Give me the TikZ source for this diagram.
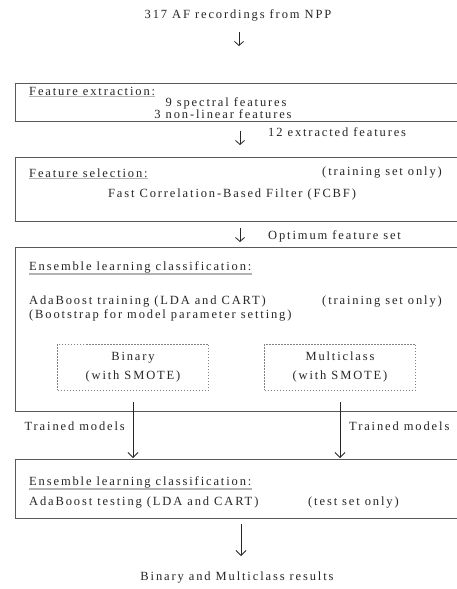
\documentclass[tikz,border=0pt]{standalone}
\usepackage{fontspec}
\setmainfont{Liberation Serif}[LetterSpace=15]
\usetikzlibrary{arrows.meta}
\begin{document}
\begin{tikzpicture}[x=1pt,y=-1pt,
  txt/.style={font=\fontsize{12.5}{13}\selectfont, inner sep=0pt, text=black!85},
  box/.style={draw=black!65, line width=0.9pt},
  dbox/.style={draw=black!50, dashed, dash pattern=on 1.5pt off 1.5pt, line width=0.7pt, minimum width=151pt, minimum height=46pt, align=center, font=\fontsize{12.5}{19}\selectfont, text=black!85},
  uline/.style={draw=black!30, line width=1.6pt},
  sarr/.style={draw=black!85, line width=0.8pt, -{Straight Barb[length=4pt,width=9pt]}},
  larr/.style={draw=black!85, line width=0.8pt, -{Straight Barb[length=5pt,width=10pt]}}]
\useasboundingbox (0,0) rectangle (457,589);
\clip (0,0) rectangle (457,589);
\fill[white] (0,0) rectangle (457,589);

% title
\node[txt] (title) at (238,15) {317 AF recordings from NPP};
\coordinate (a1s) at (239,32);
\coordinate (a1e) at (239,46);
\draw[sarr] (a1s) -- (a1e);

% box 1
\draw[box] (15,83) rectangle (480,121);
\node[txt, anchor=west] (h1) at (29,91) {Feature extraction:};
\draw[uline] ([yshift=-1pt]h1.south west) -- ([yshift=-1pt]h1.south east);
\node[txt] (f1) at (226,103.5) {9 spectral features};
\node[txt] (f2) at (223,114) {3 non-linear features};

\coordinate (a2s) at (240,131);
\coordinate (a2e) at (240,145);
\draw[sarr] (a2s) -- (a2e);
\node[txt, anchor=west] (l2) at (268,132) {12 extracted features};

% box 2
\draw[box] (15,157) rectangle (480,221);
\node[txt, anchor=west] (h2) at (29,173) {Feature selection:};
\draw[uline] ([yshift=-1pt]h2.south west) -- ([yshift=-1pt]h2.south east);
\node[txt, anchor=east] (r2) at (442,173) {(training set only)};
\node[txt] (fcbf) at (232,194) {Fast Correlation-Based Filter (FCBF)};

\coordinate (a3s) at (240,228);
\coordinate (a3e) at (240,242);
\draw[sarr] (a3s) -- (a3e);
\node[txt, anchor=west] (l3) at (268,236) {Optimum feature set};

% box 3
\draw[box] (15,247) rectangle (480,411);
\node[txt, anchor=west] (h3) at (29,267) {Ensemble learning classification:};
\draw[uline] ([yshift=-1pt]h3.south west) -- ([yshift=-1pt]h3.south east);
\node[txt, anchor=west] (ada1) at (29,302) {AdaBoost training (LDA and CART)};
\node[txt, anchor=east] (r3) at (442,302) {(training set only)};
\node[txt, anchor=west] (boot) at (29,315) {(Bootstrap for model parameter setting)};
\node[dbox] (bin) at (133,367) {Binary\\(with SMOTE)};
\node[dbox] (mul) at (340,367) {Multiclass\\(with SMOTE)};

% box 4
\draw[box] (15,459) rectangle (480,518);
\node[txt, anchor=west] (h4) at (29,482) {Ensemble learning classification:};
\draw[uline] ([yshift=-1pt]h4.south west) -- ([yshift=-1pt]h4.south east);
\node[txt, anchor=west] (ada2) at (29,503) {AdaBoost testing (LDA and CART)};
\node[txt, anchor=west] (r4) at (308,503) {(test set only)};
\coordinate (box4top1) at (133,458);
\coordinate (box4top2) at (340,458);

% trained model arrows
\coordinate (t1s) at (133,402);
\coordinate (t2s) at (340,402);
\draw[larr] (t1s) -- (box4top1);
\draw[larr] (t2s) -- (box4top2);
\node[txt, anchor=east] (tm1) at (125,426) {Trained models};
\node[txt, anchor=west] (tm2) at (349,426) {Trained models};

% final arrow
\coordinate (a5s) at (241,524);
\coordinate (a5e) at (241,556);
\draw[larr] (a5s) -- (a5e);
\node[txt] (res) at (237,578) {Binary and Multiclass results};
\end{tikzpicture}
\end{document}
